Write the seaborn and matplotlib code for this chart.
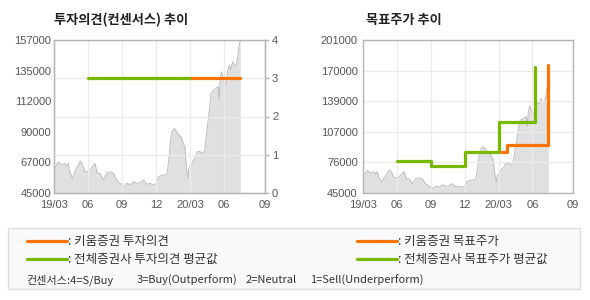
import matplotlib
matplotlib.use("Agg")
import matplotlib.pyplot as plt
import seaborn as sns
import numpy as np
import pandas as pd
from matplotlib.patches import Rectangle
from matplotlib.lines import Line2D

# ---------------- data ----------------
months = [0.00,0.36,0.65,0.95,1.09,1.24,1.39,1.63,1.83,2.13,2.34,2.51,2.72,2.93,3.17,3.61,3.82,4.05,
          4.35,4.64,4.94,5.24,5.53,5.68,5.98,6.18,6.42,6.72,7.01,7.31,7.60,7.90,8.20,8.49,8.79,9.02,
          9.23,9.53,9.82,9.97,10.12,10.27,10.41,10.62,10.80,11.01,11.21,11.39,11.54,11.69,11.80,11.89,
          12.10,12.28,12.49,12.63,12.87,13.08,13.28,13.37,13.52,13.67,13.82,13.96,14.26,14.47,14.56,
          14.64,14.76,14.94,15.15,15.30,15.44,15.59,15.74,15.89,16.04,16.18,16.27,16.42]
price = [61800,67900,65500,66700,64300,66700,60600,55700,60600,65500,68400,66200,60600,60600,61800,
         66700,59400,59400,54500,59400,60600,59400,54500,53300,50900,49600,52100,50900,53300,52100,
         52600,54500,51300,52100,50900,52100,57000,58200,58200,59400,69200,83800,89900,92300,89900,
         87500,86200,81400,78900,61800,55700,63100,65500,69200,71600,75300,75300,74000,75300,82600,
         93600,103300,116700,119200,121600,122800,113100,127700,133800,128900,124100,133800,138700,
         135200,141100,138700,137500,143600,150900,157000]

tick_pos = [0, 3, 6, 9, 12, 15, 18.6]
tick_labels = ["19/03", "06", "09", "12", "20/03", "06", "09"]

# investment opinion (consensus)
op_all_x = [3.0, 12.19]
op_all_y = [3, 3]
op_kiwoom_x = [12.19, 16.42]
op_kiwoom_y = [3, 3]

# target price
tp_all_x = [3.0, 6.0, 9.0, 12.0, 15.25]
tp_all_y = [78000, 73000, 87000, 117000, 173000]
tp_kiwoom_x = [12.19, 12.75, 16.37]
tp_kiwoom_y = [87000, 94000, 176000]

left_ticks = [45000, 67000, 90000, 112000, 135000, 157000]
right_ticks = [45000, 76000, 107000, 139000, 170000, 201000]

title_left = "투자의견(컨센서스) 추이"
title_right = "목표주가 추이"
leg_labels = [": 키움증권 투자의견", ": 전체증권사 투자의견 평균값",
              ": 키움증권 목표주가", ": 전체증권사 목표주가 평균값"]
consensus = ["컨센서스:4=S/Buy", "3=Buy(Outperform)", "2=Neutral", "1=Sell(Underperform)"]

# ---------------- style ----------------
sns.set_style("white")
plt.rcParams['font.family'] = ['Liberation Sans', 'Noto Sans CJK KR', 'DejaVu Sans']

ORANGE = "#ff7300"
GREEN = "#77b800"
FILL = "#e0e0e0"
EDGE = "#bdbdbd"
SPINE = "#b4b4b4"
GRID = "#ebebeb"
TXT = "#555555"

W, H = 590, 300
fig = plt.figure(figsize=(5.9, 3.0), dpi=100)
fig.patch.set_facecolor("white")

def fx(px):
    return px / W

def fy(py):
    return 1 - py / H

df = pd.DataFrame({"m": months, "p": price})

def style_axes(ax):
    for s in ax.spines.values():
        s.set_color(SPINE)
        s.set_linewidth(1)
    ax.set_xlim(0, 18.6)
    ax.set_xticks(tick_pos)
    ax.set_xticklabels(tick_labels)
    ax.set_xlabel("")
    ax.set_ylabel("")
    ax.tick_params(axis="x", direction="out", length=3, width=1, color=SPINE,
                   labelsize=8, labelcolor=TXT, pad=2)
    ax.xaxis.grid(True, color=GRID, lw=1)
    ax.set_axisbelow("line")

# ---------------- left chart ----------------
ax1 = fig.add_axes([fx(54), fy(193), fx(265) - fx(54), fy(40) - fy(193)])
ax1.fill_between(df["m"], df["p"], 45000, color=FILL, lw=0, zorder=1)
sns.lineplot(data=df, x="m", y="p", ax=ax1, color=EDGE, lw=0.7, zorder=1.2)
ax1.set_ylim(45000, 157000)
ax1.set_yticks(np.linspace(45000, 157000, 6))
ax1.set_yticklabels([str(v) for v in left_ticks])
ax1.tick_params(axis="y", length=0, labelsize=8, labelcolor=TXT, pad=2)
style_axes(ax1)
ax1.yaxis.grid(False)

ax2 = ax1.twinx()
sns.lineplot(x=op_all_x, y=op_all_y, ax=ax2, color=GREEN, lw=2.3)
sns.lineplot(x=op_kiwoom_x, y=op_kiwoom_y, ax=ax2, color=ORANGE, lw=2.3)
ax2.set_ylim(0, 4)
ax2.set_yticks([0, 1, 2, 3, 4])
ax2.set_yticklabels(["0", "1", "2", "3", "4"])
ax2.tick_params(axis="y", direction="out", length=3, width=1, color=SPINE,
                labelsize=8, labelcolor=TXT, pad=2)
ax2.yaxis.grid(True, color=GRID, lw=1)
ax2.set_axisbelow("line")
ax2.set_ylabel("")
for s in ax2.spines.values():
    s.set_color(SPINE)

# ---------------- right chart ----------------
ax3 = fig.add_axes([fx(363.3), fy(193), fx(573) - fx(363.3), fy(40) - fy(193)])
ax3.fill_between(df["m"], df["p"], 45000, color=FILL, lw=0, zorder=1)
sns.lineplot(data=df, x="m", y="p", ax=ax3, color=EDGE, lw=0.7, zorder=1.2)
sns.lineplot(x=tp_all_x, y=tp_all_y, ax=ax3, color=GREEN, lw=2.3, drawstyle="steps-post")
sns.lineplot(x=tp_kiwoom_x, y=tp_kiwoom_y, ax=ax3, color=ORANGE, lw=2.3, drawstyle="steps-post")
ax3.set_ylim(45000, 201000)
ax3.set_yticks(np.linspace(45000, 201000, 6))
ax3.set_yticklabels([str(v) for v in right_ticks])
ax3.tick_params(axis="y", direction="out", length=3, width=1, color=SPINE,
                labelsize=8, labelcolor=TXT, pad=1)
style_axes(ax3)
ax3.yaxis.grid(True, color=GRID, lw=1)

# ---------------- titles ----------------
fig.text(fx(54), fy(20), title_left, ha="left", va="center", fontsize=9.5,
         fontweight="bold", color="#222222", family=['Noto Sans CJK KR', 'DejaVu Sans'])
fig.text(fx(366), fy(20), title_right, ha="left", va="center", fontsize=9.5,
         fontweight="bold", color="#222222", family=['Noto Sans CJK KR', 'DejaVu Sans'])

# ---------------- legend box ----------------
fig.patches.append(Rectangle((fx(8.3), fy(289)), fx(580) - fx(8.3), fy(228.3) - fy(289),
                             transform=fig.transFigure, facecolor="#f9f9f9",
                             edgecolor="#dddddd", lw=1, zorder=0))
leg_items = [(26.7, 241, ORANGE, leg_labels[0]), (26.7, 259, GREEN, leg_labels[1]),
             (356.7, 241, ORANGE, leg_labels[2]), (356.7, 259, GREEN, leg_labels[3])]
for x0, y0, c, lab in leg_items:
    fig.lines.append(Line2D([fx(x0), fx(x0 + 40)], [fy(y0), fy(y0)], color=c, lw=2.3,
                            transform=fig.transFigure))
    fig.text(fx(x0 + 41), fy(y0), lab, ha="left", va="center", fontsize=9,
             color="#333333", family=['Noto Sans CJK KR', 'DejaVu Sans'])
for xp, t in zip([26.7, 137, 246, 310], consensus):
    fig.text(fx(xp), fy(280), t, ha="left", va="center", fontsize=8,
             color="#333333", family=['Noto Sans CJK KR', 'DejaVu Sans'])

fig.savefig("out.png", dpi=100, facecolor="white")
